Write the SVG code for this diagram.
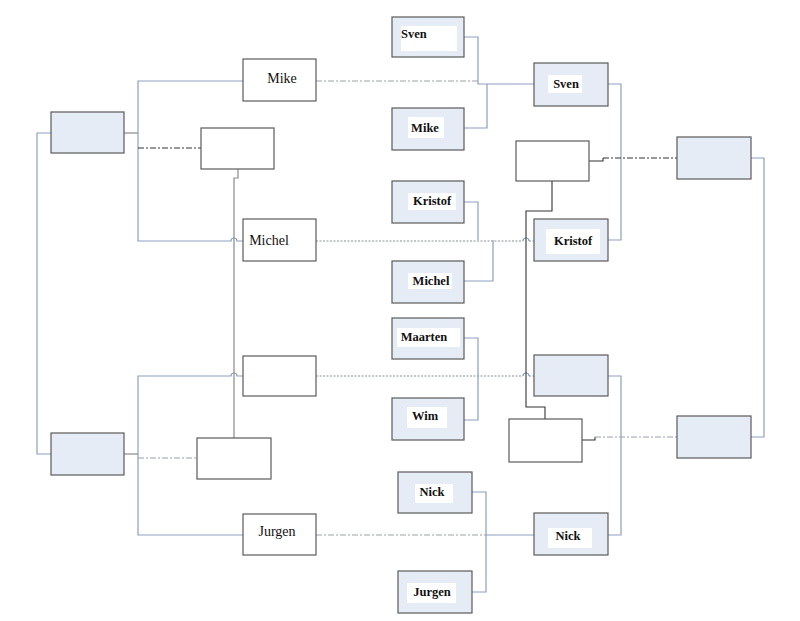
<svg xmlns="http://www.w3.org/2000/svg" width="800" height="621" viewBox="0 0 800 621">
<style>
.bx{fill:#ffffff;stroke:#5a5a5a;stroke-width:1.2}
.bb{fill:#e6ecf6;stroke:#5a5a5a;stroke-width:1.2}
.lb{fill:#ffffff;stroke:none}
.c{fill:none;stroke:#8da0bf;stroke-width:1.2}
.d{fill:none;stroke:#9aa0a8;stroke-width:1.1;stroke-dasharray:6,2,2,2}
.dk{fill:none;stroke:#333333;stroke-width:1.1;stroke-dasharray:6,2,2,2}
.dt{fill:none;stroke:#8a8f98;stroke-width:1;stroke-dasharray:2,1.5}
.k{fill:none;stroke:#333333;stroke-width:1.1}
.g{fill:none;stroke:#8a8a8a;stroke-width:1.2}
text{font-family:"Liberation Serif","Times New Roman",serif;font-size:14px;fill:#111111;text-anchor:middle}
.b{font-weight:bold;font-size:12.5px}
</style>
<rect width="800" height="621" fill="#ffffff"/>
<g id="connectors">
<path class="c" d="M51,133 H37 V454 H51"/>
<path class="c" d="M243,81 H138 V241 H231 A3,3 0 0 1 237,241 H243"/>
<path class="g" d="M124,133 H138"/>
<path class="dk" d="M138,148 H201"/>
<path class="c" d="M243,376 H237 A3,3 0 0 0 231,376 H138 V535 H243"/>
<path class="g" d="M124,454 H138"/>
<path class="d" d="M138,458 H197"/>
<path class="g" d="M238,169 V178 H234 V438"/>
<path class="d" d="M316,81 H478"/>
<path class="c" d="M464,37 H478 V84 H534"/>
<path class="c" d="M464,128 H487 V84"/>
<path class="dt" d="M316,241 H523"/>
<path class="dt" d="M529,241 H534"/>
<path class="c" d="M523,241 A3,3 0 0 1 529,241"/>
<path class="c" d="M464,202 H478 V240"/>
<path class="c" d="M464,281 H493 V240"/>
<path class="dt" d="M316,376 H523"/>
<path class="dt" d="M529,376 H534"/>
<path class="c" d="M523,376 A3,3 0 0 1 529,376"/>
<path class="c" d="M464,338 H478 V420 H464"/>
<path class="d" d="M316,535 H486"/>
<path class="c" d="M486,535 H534"/>
<path class="c" d="M472,492 H486 V592 H472"/>
<path class="c" d="M608,84 H621 V240 H608"/>
<path class="c" d="M608,376 H621 V535 H608"/>
<path class="k" d="M552,181 V211 H526 V407 H545 V419"/>
<path class="k" d="M589,161 H603 V158"/>
<path class="dk" d="M603,158 H677"/>
<path class="k" d="M582,440 H595 V437"/>
<path class="d" d="M595,437 H677"/>
<path class="c" d="M751,158 H764 V437 H751"/>
</g>
<g id="n-left-top"><rect class="bb" x="51" y="112" width="73" height="41"/></g>
<g id="n-left-bottom"><rect class="bb" x="51" y="433" width="73" height="42"/></g>
<g id="n-mike-a"><rect class="bx" x="243" y="59" width="73" height="42"/><text x="282" y="83">Mike</text></g>
<g id="n-white-1"><rect class="bx" x="201" y="128" width="73" height="41"/></g>
<g id="n-michel-a"><rect class="bx" x="243" y="219" width="73" height="42"/><text x="269" y="245">Michel</text></g>
<g id="n-empty-a"><rect class="bx" x="243" y="356" width="73" height="40"/></g>
<g id="n-white-2"><rect class="bx" x="197" y="438" width="74" height="41"/></g>
<g id="n-jurgen-a"><rect class="bx" x="243" y="514" width="73" height="41"/><text x="277" y="536">Jurgen</text></g>
<g id="n-sven-l"><rect class="bb" x="392" y="17" width="72" height="40"/><rect class="lb" x="401" y="26" width="56" height="25"/><text class="b" x="401" y="38" style="text-anchor:start">Sven</text></g>
<g id="n-mike-l"><rect class="bb" x="392" y="108" width="72" height="42"/><rect class="lb" x="408" y="117" width="36" height="21"/><text class="b" x="425" y="132">Mike</text></g>
<g id="n-kristof-l"><rect class="bb" x="392" y="181" width="72" height="42"/><rect class="lb" x="408" y="193" width="48" height="17"/><text class="b" x="432" y="205">Kristof</text></g>
<g id="n-michel-l"><rect class="bb" x="392" y="261" width="72" height="42"/><rect class="lb" x="408" y="273" width="44" height="16"/><text class="b" x="431" y="285">Michel</text></g>
<g id="n-maarten-l"><rect class="bb" x="392" y="318" width="72" height="41"/><rect class="lb" x="397" y="328" width="63" height="19"/><text class="b" x="424" y="341">Maarten</text></g>
<g id="n-wim-l"><rect class="bb" x="392" y="398" width="72" height="42"/><rect class="lb" x="407" y="407" width="40" height="21"/><text class="b" x="425" y="420">Wim</text></g>
<g id="n-nick-l"><rect class="bb" x="398" y="472" width="74" height="41"/><rect class="lb" x="415" y="484" width="38" height="19"/><text class="b" x="432" y="496">Nick</text></g>
<g id="n-jurgen-l"><rect class="bb" x="398" y="571" width="74" height="42"/><rect class="lb" x="407" y="583" width="49" height="20"/><text class="b" x="432" y="596">Jurgen</text></g>
<g id="n-sven-r"><rect class="bb" x="534" y="63" width="74" height="43"/><rect class="lb" x="548" y="75" width="34" height="18"/><text class="b" x="566" y="88">Sven</text></g>
<g id="n-white-3"><rect class="bx" x="516" y="141" width="73" height="40"/></g>
<g id="n-kristof-r"><rect class="bb" x="534" y="219" width="74" height="42"/><rect class="lb" x="546" y="229" width="54" height="25"/><text class="b" x="573" y="245">Kristof</text></g>
<g id="n-empty-r"><rect class="bb" x="534" y="355" width="74" height="41"/></g>
<g id="n-white-4"><rect class="bx" x="509" y="419" width="73" height="43"/></g>
<g id="n-nick-r"><rect class="bb" x="534" y="513" width="74" height="42"/><rect class="lb" x="548" y="528" width="44" height="20"/><text class="b" x="568" y="540">Nick</text></g>
<g id="n-right-top"><rect class="bb" x="677" y="137" width="74" height="42"/></g>
<g id="n-right-bottom"><rect class="bb" x="677" y="416" width="74" height="42"/></g>
</svg>
